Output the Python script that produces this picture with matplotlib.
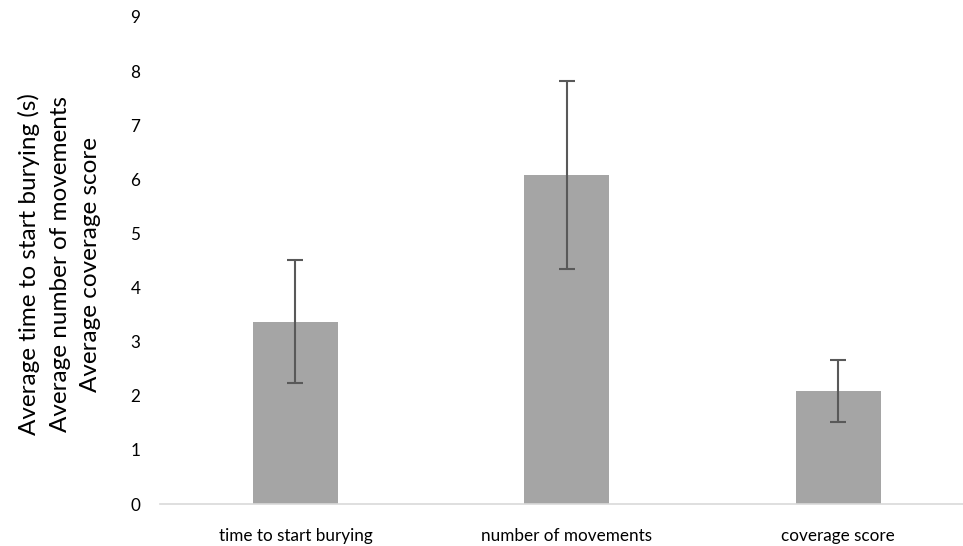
import matplotlib.pyplot as plt

categories = ["time to start burying", "number of movements", "coverage score"]
means = [3.37, 6.08, 2.09]
errors = [1.14, 1.73, 0.57]
y_ticks = [0, 1, 2, 3, 4, 5, 6, 7, 8, 9]

plt.rcParams["font.family"] = ["Lato", "DejaVu Sans"]


def main():
    fig = plt.figure(figsize=(9.63, 5.46), dpi=100)
    # axes run past the right edge, like the cropped export
    ax = fig.add_axes([0.1659, 0.0769, 0.8455, 0.892])

    x = range(len(categories))
    ax.bar(x, means, width=0.313, color="#A5A5A5", zorder=2)
    ax.errorbar(x, means, yerr=errors, fmt="none", ecolor="#595959",
                elinewidth=1.5, capsize=5.5, capthick=1.5, zorder=3)

    ax.set_xlim(-0.5, 2.5)
    ax.set_ylim(0, 9)
    ax.set_yticks(y_ticks)
    ax.set_xticks(list(x))
    ax.set_xticklabels(categories)
    ax.tick_params(axis="both", length=0, labelsize=12.3, colors="#000000")
    ax.tick_params(axis="y", pad=14)
    ax.tick_params(axis="x", pad=17)

    for side in ["top", "right", "left"]:
        ax.spines[side].set_visible(False)
    ax.spines["bottom"].set_color("#D9D9D9")
    ax.spines["bottom"].set_linewidth(1.2)

    fig.text(0.062, 0.516,
             "Average time to start burying (s)\nAverage number of movements\nAverage coverage score",
             rotation=90, ha="center", va="center", multialignment="center",
             fontsize=17.5, linespacing=1.55)

    fig.savefig("out.png", dpi=100)
    plt.close(fig)


if __name__ == "__main__":
    main()
